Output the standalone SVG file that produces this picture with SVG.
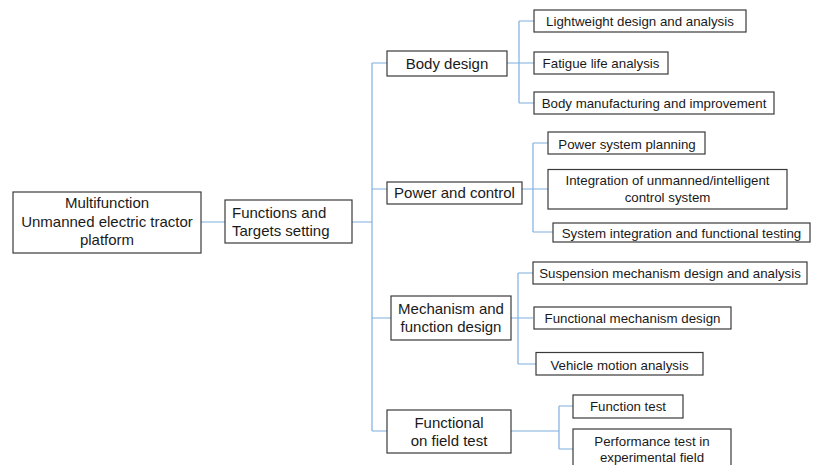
<svg xmlns="http://www.w3.org/2000/svg" width="817" height="465" viewBox="0 0 817 465">
  <style>
    .box { fill: #ffffff; stroke: #3a3a3a; stroke-width: 1.2; }
    .link { fill: none; stroke: #7fb0e0; stroke-width: 1.2; }
    text { font-family: "Liberation Sans", Arial, sans-serif; fill: #1a1a1a; }
    .lg { font-size: 15px; }
    .sm { font-size: 13.3px; }
    .c { text-anchor: middle; }
  </style>
  <rect width="817" height="465" fill="#ffffff"/>

  <!-- tree connectors -->
  <g id="connectors">
    <path class="link" d="M201 222 H225 M352 222 H372"/>
    <path class="link" d="M372 63 V431 M372 63 H387 M372 189 H387 M372 318 H391 M372 431 H387"/>
    <path class="link" d="M507 63 H534 M519 21 V103 M519 21 H534 M519 103 H534"/>
    <path class="link" d="M522 189 H548 M533 143 V232 M533 143 H548 M533 232 H553"/>
    <path class="link" d="M511 318 H533 M518 273 V364 M518 273 H533 M518 364 H536"/>
    <path class="link" d="M511 431 H559 M559 406 V449 M559 406 H573 M559 449 H573"/>
  </g>

  <g id="root">
    <rect class="box" x="13" y="192" width="188" height="61"/>
    <text class="lg c" x="107" y="208">Multifunction</text>
    <text class="lg c" x="107" y="227">Unmanned electric tractor</text>
    <text class="lg c" x="107" y="245">platform</text>
  </g>

  <g id="functions-targets">
    <rect class="box" x="225" y="200" width="127" height="43"/>
    <text class="lg" x="232" y="218">Functions and</text>
    <text class="lg" x="232" y="236">Targets setting</text>
  </g>

  <g id="body-design">
    <rect class="box" x="387" y="51" width="120" height="25"/>
    <text class="lg c" x="447" y="68.5">Body design</text>
  </g>

  <g id="power-control">
    <rect class="box" x="387" y="182" width="135" height="22"/>
    <text class="lg c" x="454.5" y="197.5">Power and control</text>
  </g>

  <g id="mechanism-function">
    <rect class="box" x="391" y="296" width="120" height="44"/>
    <text class="lg c" x="451" y="313.5">Mechanism and</text>
    <text class="lg c" x="451" y="332">function design</text>
  </g>

  <g id="field-test">
    <rect class="box" x="387" y="410" width="124" height="43"/>
    <text class="lg c" x="449" y="427.5">Functional</text>
    <text class="lg c" x="449" y="445.5">on field test</text>
  </g>

  <g id="lightweight">
    <rect class="box" x="534" y="10" width="212" height="22"/>
    <text class="sm c" x="640" y="26">Lightweight design and analysis</text>
  </g>

  <g id="fatigue">
    <rect class="box" x="534" y="52" width="134" height="22"/>
    <text class="sm c" x="601" y="67.5">Fatigue life analysis</text>
  </g>

  <g id="body-manufacturing">
    <rect class="box" x="534" y="92" width="240" height="22"/>
    <text class="sm c" x="654" y="108">Body manufacturing and improvement</text>
  </g>

  <g id="power-planning">
    <rect class="box" x="548" y="132" width="157" height="22"/>
    <text class="sm c" x="627" y="148.5">Power system planning</text>
  </g>

  <g id="control-integration">
    <rect class="box" x="548" y="169.5" width="239" height="39.5"/>
    <text class="sm c" x="667.5" y="185">Integration of unmanned/intelligent</text>
    <text class="sm c" x="667.5" y="202">control system</text>
  </g>

  <g id="system-testing">
    <rect class="box" x="553" y="223" width="257" height="19"/>
    <text class="sm c" x="681.5" y="237.5">System integration and functional testing</text>
  </g>

  <g id="suspension">
    <rect class="box" x="533" y="262" width="274" height="22"/>
    <text class="sm c" x="670" y="277.5">Suspension mechanism design and analysis</text>
  </g>

  <g id="functional-mechanism">
    <rect class="box" x="534" y="307" width="197" height="22"/>
    <text class="sm c" x="632.5" y="322.5">Functional mechanism design</text>
  </g>

  <g id="vehicle-motion">
    <rect class="box" x="536" y="352.5" width="167" height="22.5"/>
    <text class="sm c" x="619.5" y="369.5">Vehicle motion analysis</text>
  </g>

  <g id="function-test">
    <rect class="box" x="573" y="395" width="110" height="23"/>
    <text class="sm c" x="628" y="411">Function test</text>
  </g>

  <g id="performance-test">
    <rect class="box" x="573" y="429" width="158" height="42"/>
    <text class="sm c" x="652" y="445.5">Performance test in</text>
    <text class="sm c" x="652" y="462">experimental field</text>
  </g>
</svg>
